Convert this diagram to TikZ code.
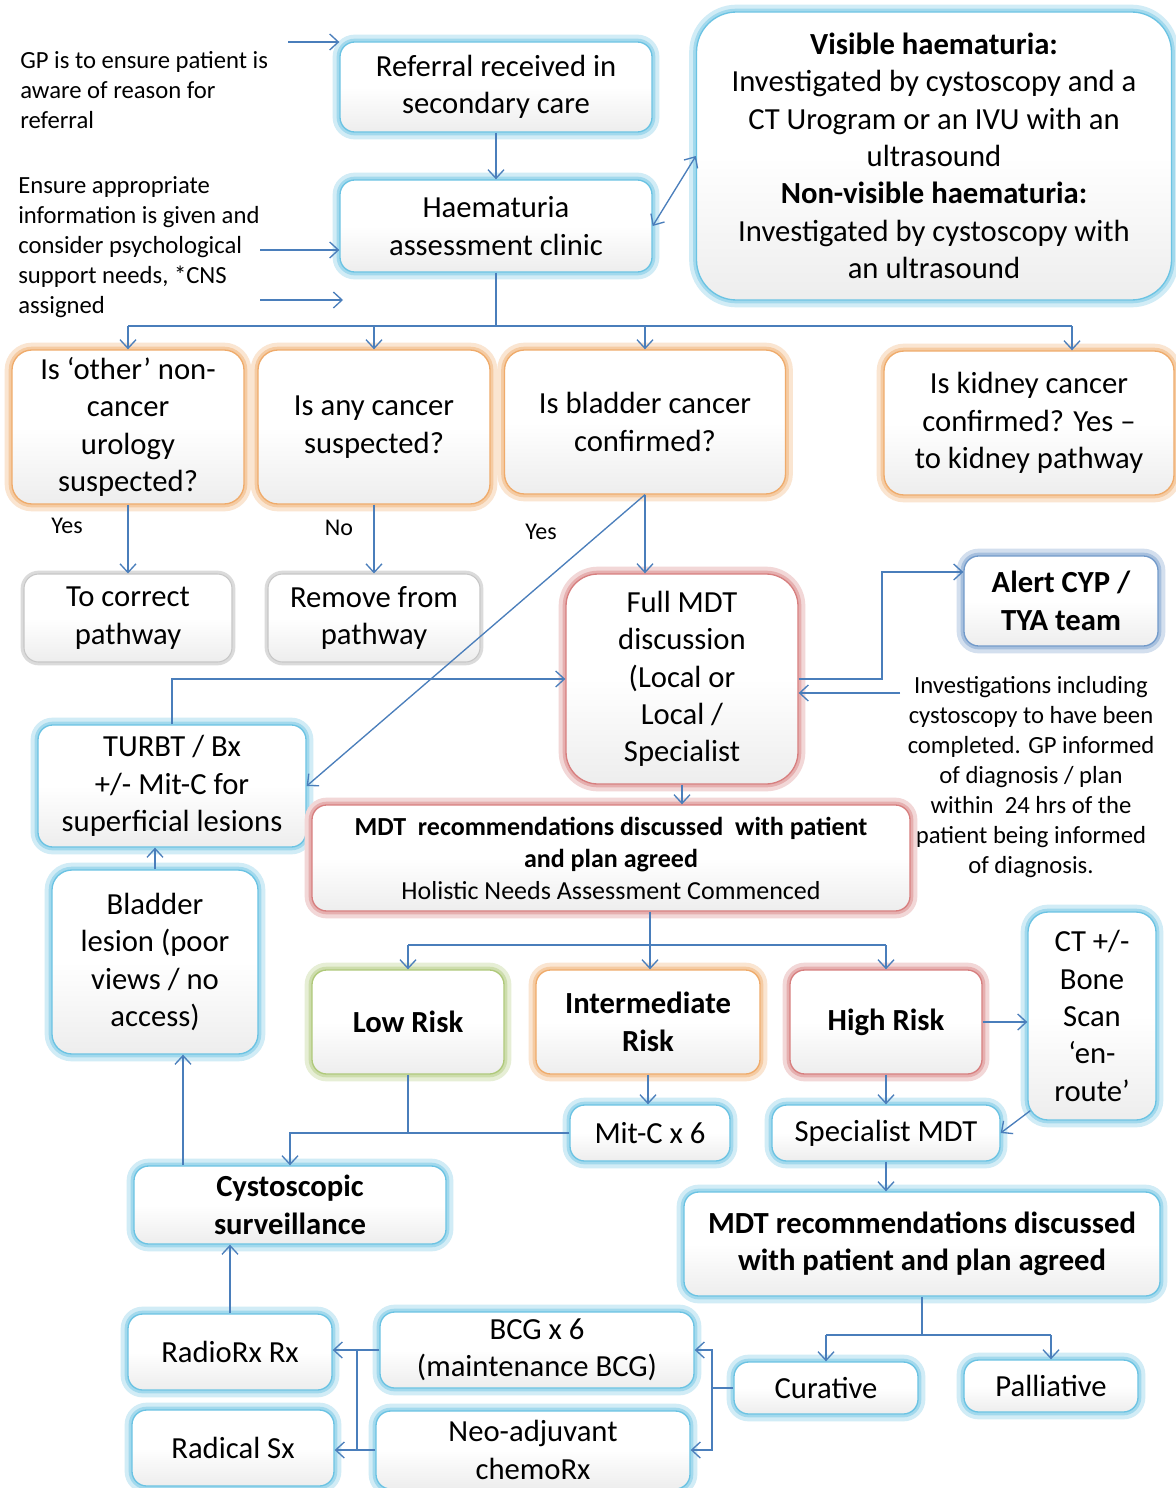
\documentclass[tikz,border=0pt]{standalone}
\usepackage{fontspec}
\setmainfont{Carlito}
\usetikzlibrary{arrows.meta,calc}
\definecolor{arrblue}{RGB}{74,126,187}
\definecolor{gcyan}{RGB}{70,180,220}
\definecolor{gorange}{RGB}{235,150,70}
\definecolor{gred}{RGB}{205,95,95}
\definecolor{ggreen}{RGB}{155,187,89}
\definecolor{gblue}{RGB}{79,129,189}
\newcommand{\fsmain}{\fontsize{23}{28}\selectfont}
\newcommand{\fsnote}{\fontsize{18.5}{22.5}\selectfont}
\newcommand{\fsmid}{\fontsize{19.5}{24}\selectfont}
\newcommand{\fslab}{\fontsize{18}{20}\selectfont}
\newcommand{\mkglow}[2]{\tikzset{#1/.style={preaction={draw=#2!25, line width=11pt},
     preaction={draw=#2!50, line width=5pt}, draw=#2!80, line width=1pt}}}
\mkglow{glowcyan}{gcyan}
\mkglow{gloworange}{gorange}
\mkglow{glowred}{gred}
\mkglow{glowgreen}{ggreen}
\mkglow{glowblue}{gblue}
\tikzset{
  wh/.style 2 args={minimum width={#1*0.75pt}, minimum height={#2*0.75pt}},
  bx/.style={rounded corners=11pt, align=center, inner sep=2pt, font=\fsmain,
     top color=white, bottom color=black!7, middle color=white},
  greybox/.style={preaction={draw=black!14, line width=5pt}, draw=black!22, line width=0.8pt},
  note/.style={font=\fsnote, align=left, inner sep=0pt},
  lab/.style={font=\fslab, inner sep=0pt},
  arr/.style={draw=arrblue, line width=1pt, -{Straight Barb[length=6.5pt,width=12pt]}},
  arr2/.style={draw=arrblue, line width=1pt, {Straight Barb[length=6.5pt,width=12pt]}-{Straight Barb[length=6.5pt,width=12pt]}},
  ln/.style={draw=arrblue, line width=1pt},
}
\begin{document}
\begin{tikzpicture}[x=0.75pt,y=-0.75pt]
\useasboundingbox (0,0) rectangle (1176,1488);
\fill[white] (0,0) rectangle (1176,1488);

% top
\node[bx, glowcyan, wh={312}{90}] (ref) at (496,87) {Referral received in\\secondary care};
\node[bx, glowcyan, wh={312}{92}] (hac) at (496,226) {Haematuria\\assessment clinic};
\node[bx, glowcyan, wh={475}{288}, rounded corners=30pt] (vis) at (934,156)
  {\textbf{Visible haematuria:}\\Investigated by cystoscopy and a\\CT Urogram or an IVU with an\\ultrasound\\\textbf{Non-visible haematuria:}\\Investigated by cystoscopy with\\an ultrasound};

\node[note, anchor=west] (n1) at (20,90) {GP is to ensure patient is\\aware of reason for\\referral};
\node[note, anchor=west] (n2) at (18,247) {Ensure appropriate\\information is given and\\consider psychological\\support needs, *CNS\\assigned};

% questions
\node[bx, gloworange, wh={232}{154}, rounded corners=15pt] (q1) at (128,427) {Is ‘other’ non-\\cancer\\urology\\suspected?};
\node[bx, gloworange, wh={232}{154}, rounded corners=15pt] (q2) at (374,427) {Is any cancer\\suspected?};
\node[bx, gloworange, wh={281}{144}, rounded corners=15pt] (q3) at (645,422) {Is bladder cancer\\confirmed?};
\node[bx, gloworange, wh={290}{144}, rounded corners=15pt] (q4) at (1029,423) {Is kidney cancer\\confirmed? Yes –\\to kidney pathway};

\node[lab] (y1) at (67,526) {Yes};
\node[lab] (no) at (339,528) {No};
\node[lab] (y2) at (541,532) {Yes};

% second row
\node[bx, greybox, wh={208}{88}] (tc) at (128,618) {To correct\\pathway};
\node[bx, greybox, wh={212}{88}] (rp) at (374,618) {Remove from\\pathway};
\node[bx, glowred, wh={232}{210}, rounded corners=24pt] (fm) at (682,679) {Full MDT\\discussion\\(Local or\\Local /\\Specialist};
\node[bx, glowblue, wh={194}{90}, font=\fsmain\bfseries] (al) at (1061,601) {Alert CYP /\\TYA team};
\node[note, align=center] (inv) at (1031,777) {Investigations including\\cystoscopy to have been\\completed. GP informed\\of diagnosis / plan\\within\ \ 24 hrs of the\\patient being informed\\of diagnosis.};

\node[bx, glowcyan, wh={268}{122}] (tu) at (172,786) {TURBT / Bx\\+/- Mit-C for\\superficial lesions};
\node[bx, glowcyan, wh={206}{184}, rounded corners=15pt] (bl) at (155,962) {Bladder\\lesion (poor\\views / no\\access)};

\node[bx, glowred, wh={598}{106}, font=\fsmid] (mr1) at (611,858) {\textbf{MDT\ \ recommendations discussed\ \ with patient}\\\textbf{and plan agreed}\\Holistic Needs Assessment Commenced};

% risk row
\node[bx, glowgreen, wh={192}{104}, font=\fsmain\bfseries] (lr) at (408,1022) {Low Risk};
\node[bx, gloworange, wh={224}{104}, font=\fsmain\bfseries] (ir) at (648,1022) {Intermediate\\Risk};
\node[bx, glowred, wh={192}{104}, font=\fsmain\bfseries] (hr) at (886,1022) {High Risk};
\node[bx, glowcyan, wh={128}{208}, rounded corners=15pt] (ct) at (1092,1016) {CT +/-\\Bone\\Scan\\‘en-\\route’};

\node[bx, glowcyan, wh={160}{56}] (mc) at (650,1133) {Mit-C x 6};
\node[bx, glowcyan, wh={228}{56}] (sm) at (886,1133) {Specialist MDT};
\node[bx, glowcyan, wh={312}{78}, font=\fsmain\bfseries] (cs) at (290,1205) {Cystoscopic\\surveillance};
\node[bx, glowcyan, wh={476}{104}, font=\fsmain\bfseries] (mr2) at (922,1244) {MDT recommendations discussed\\with patient and plan agreed};

% bottom
\node[bx, glowcyan, wh={184}{52}] (cu) at (826,1388) {Curative};
\node[bx, glowcyan, wh={174}{52}] (pa) at (1051,1386) {Palliative};
\node[bx, glowcyan, wh={314}{76}] (bcg) at (537,1350) {BCG x 6\\(maintenance BCG)};
\node[bx, glowcyan, wh={314}{78}] (neo) at (533,1450) {Neo-adjuvant\\chemoRx};
\node[bx, glowcyan, wh={204}{76}] (rr) at (230,1352) {RadioRx Rx};
\node[bx, glowcyan, wh={202}{76}] (rs) at (233,1448) {Radical Sx};

% coordinates
\coordinate (a1) at (288,42);
\coordinate (a2) at (260,250);
\coordinate (a3) at (260,300);
\coordinate (a3e) at (343,300);
\coordinate (b0) at (496,326);
\coordinate (b4) at (1072,326);
\coordinate (c1) at (882,572);
\coordinate (c2) at (900,693);
\coordinate (d0) at (650,945);
\coordinate (k1) at (183,0);
\coordinate (e0) at (922,1335);
\coordinate (f1) at (712,1388);
\coordinate (g1) at (357,1350);

% connectors
\draw[arr] (a1) -- (a1 -| ref.west);
\draw[arr] (a2) -- (a2 -| hac.west);
\draw[arr] (a3) -- (a3e);
\draw[arr] (ref.south) -- (hac.north);
\draw[arr2] (hac.east) -- (vis.west);
\draw[ln] (hac.south) -- (b0);
\draw[ln] (q1.north |- b0) -- (b4);
\draw[arr] (q1.north |- b0) -- (q1.north);
\draw[arr] (q2.north |- b0) -- (q2.north);
\draw[arr] (q3.north |- b0) -- (q3.north);
\draw[arr] (b4) -- (b4 |- q4.north);

\draw[arr] (q1.south) -- (tc.north);
\draw[arr] (q2.south) -- (rp.north);
\draw[arr] (q3.south) -- (q3.south |- fm.north);
\draw[arr] (q3.south) -- (tu.east);

\draw[arr] (fm.east) -| (c1) -- (c1 -| al.west);
\draw[arr] (c2) -- (c2 -| fm.east);
\draw[arr] (tu.north) |- (fm.west);
\draw[arr] (bl.north) -- (bl.north |- tu.south);
\draw[arr] (fm.south) -- (fm.south |- mr1.north);

\draw[ln] (d0 |- mr1.south) -- (d0);
\draw[ln] (lr.north |- d0) -- (hr.north |- d0);
\draw[arr] (lr.north |- d0) -- (lr.north);
\draw[arr] (d0) -- (d0 |- ir.north);
\draw[arr] (hr.north |- d0) -- (hr.north);
\draw[arr] (hr.east) -- (hr.east -| ct.west);
\draw[arr] (ir.south) -- (ir.south |- mc.north);
\draw[arr] (hr.south) -- (sm.north);
\draw[arr] ($(ct.south west)+(3,-10)$) -- (sm.east);

\draw[ln] (lr.south) -- (lr.south |- mc.west);
\draw[arr] (mc.west) -| (cs.north);
\draw[arr] (k1 |- cs.north) -- (k1 |- bl.south);
\draw[arr] (sm.south) -- (sm.south |- mr2.north);

\draw[ln] (e0 |- mr2.south) -- (e0);
\draw[ln] (cu.north |- e0) -- (pa.north |- e0);
\draw[arr] (cu.north |- e0) -- (cu.north);
\draw[arr] (pa.north |- e0) -- (pa.north);
\draw[ln] (cu.west) -- (f1);
\draw[arr] (f1) |- (bcg.east);
\draw[arr] (f1) |- (neo.east);
\draw[arr] (bcg.west) -- (bcg.west -| rr.east);
\draw[ln] (g1) -- (g1 |- neo.west);
\draw[arr] (neo.west) -- (neo.west -| rs.east);
\draw[arr] (rr.north) -- (rr.north |- cs.south);
\end{tikzpicture}
\end{document}
